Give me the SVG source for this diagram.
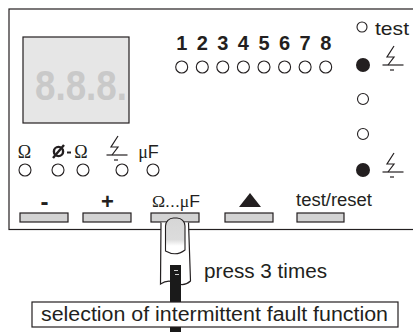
<svg xmlns="http://www.w3.org/2000/svg" width="413" height="332" viewBox="0 0 413 332">
  <style>
    .ln { stroke: #231f20; stroke-width: 1.2; fill: none; }
    .btn { fill: #d3d3d3; stroke: #231f20; stroke-width: 1.2; }
    .led { fill: #fff; stroke: #231f20; stroke-width: 1.1; }
    .on { fill: #231f20; }
    .sans { font-family: "Liberation Sans", Arial, sans-serif; fill: #231f20; }
    .serif { font-family: "Liberation Serif", "Times New Roman", serif; }
    .num { font-family: "Liberation Sans", Arial, sans-serif; font-weight: bold; font-size: 20px; fill: #231f20; text-anchor: middle; }
  </style>
  <defs>
    <!-- earth-fault symbol: lightning bolt over a ground line, origin at the ground line centre -->
    <g id="earth" class="ln">
      <path d="M1,-19 L-6,-8 L1,-8 L-5,0"/>
      <path d="M-10.5,0 H10.5"/>
      <path d="M-3,5 H1"/>
    </g>
    <linearGradient id="nailFill" x1="0" y1="0" x2="0" y2="1">
      <stop offset="0" stop-color="#d6d6d6"/>
      <stop offset="0.6" stop-color="#dcdcdc"/>
      <stop offset="0.78" stop-color="#ffffff"/>
    </linearGradient>
  </defs>

  <rect width="413" height="332" fill="#fff"/>

  <!-- front panel outline (right side runs off the sheet) -->
  <g id="panel">
    <rect x="9" y="9" width="420" height="220.5" class="ln" stroke-width="1.3"/>
  </g>

  <!-- numeric display -->
  <g id="display">
    <rect x="23" y="37" width="106" height="86" fill="#e6e6e6" stroke="#231f20" stroke-width="1.2"/>
    <text x="35" y="100" class="sans" font-size="42" font-weight="bold" style="fill:#c9c9c9" textLength="92" lengthAdjust="spacingAndGlyphs">8.8.8.</text>
  </g>

  <!-- channel indicators 1..8 -->
  <g id="channels">
    <text class="num" x="181.7" y="50">1</text>
    <text class="num" x="202.3" y="50">2</text>
    <text class="num" x="222.8" y="50">3</text>
    <text class="num" x="243.4" y="50">4</text>
    <text class="num" x="264.0" y="50">5</text>
    <text class="num" x="284.6" y="50">6</text>
    <text class="num" x="305.1" y="50">7</text>
    <text class="num" x="325.7" y="50">8</text>
    <circle class="led" cx="181.7" cy="67" r="6"/>
    <circle class="led" cx="202.3" cy="67" r="6"/>
    <circle class="led" cx="222.8" cy="67" r="6"/>
    <circle class="led" cx="243.4" cy="67" r="6"/>
    <circle class="led" cx="264.0" cy="67" r="6"/>
    <circle class="led" cx="284.6" cy="67" r="6"/>
    <circle class="led" cx="305.1" cy="67" r="6"/>
    <circle class="led" cx="325.7" cy="67" r="6"/>
  </g>

  <!-- status column on the right -->
  <g id="status">
    <circle class="led" cx="362" cy="27" r="5"/>
    <text x="375" y="35" class="sans" font-size="19" textLength="34" lengthAdjust="spacingAndGlyphs">test</text>
    <circle class="on" cx="363" cy="65" r="7"/>
    <use href="#earth" x="393" y="65"/>
    <circle class="led" cx="363" cy="99" r="5.5"/>
    <circle class="led" cx="363" cy="134" r="5.5"/>
    <circle class="on" cx="363" cy="170" r="7"/>
    <use href="#earth" x="393" y="172"/>
  </g>

  <!-- measurement mode indicators -->
  <g id="modes">
    <text x="24.5" y="158" class="serif" font-size="18" text-anchor="middle" fill="#231f20">Ω</text>
    <circle cx="58.5" cy="151.5" r="4.6" fill="none" stroke="#231f20" stroke-width="2.4"/>
    <path d="M53,158 L64,145" stroke="#231f20" stroke-width="2.4"/>
    <path d="M67,152.5 H71" stroke="#231f20" stroke-width="2"/>
    <text x="81" y="158" class="serif" font-size="18" text-anchor="middle" fill="#231f20">Ω</text>
    <use href="#earth" x="117" y="155"/>
    <text x="148.5" y="158" class="sans" font-size="18" text-anchor="middle"><tspan class="serif">μ</tspan>F</text>
    <circle class="led" cx="25" cy="170" r="6"/>
    <circle class="led" cx="58" cy="170" r="6"/>
    <circle class="led" cx="83" cy="170" r="6"/>
    <circle class="led" cx="122" cy="170" r="6"/>
    <circle class="led" cx="153" cy="170" r="6"/>
  </g>

  <!-- push buttons -->
  <g id="btn-minus">
    <text x="44.5" y="210" class="sans" font-size="24" font-weight="bold" text-anchor="middle">-</text>
    <rect class="btn" x="20" y="213" width="48" height="9"/>
  </g>
  <g id="btn-plus">
    <text x="107.5" y="209" class="sans" font-size="22" font-weight="bold" text-anchor="middle">+</text>
    <rect class="btn" x="83" y="213" width="48" height="9"/>
  </g>
  <g id="btn-range">
    <text x="152" y="207" class="sans" font-size="17" textLength="48" lengthAdjust="spacingAndGlyphs"><tspan class="serif">Ω</tspan>...<tspan class="serif">μ</tspan>F</text>
    <rect class="btn" x="151" y="213" width="48" height="9"/>
  </g>
  <g id="btn-up">
    <polygon points="239,207 261,207 250,193" fill="#231f20"/>
    <rect class="btn" x="225" y="213" width="48" height="9"/>
  </g>
  <g id="btn-test">
    <text x="296" y="206" class="sans" font-size="18" textLength="76" lengthAdjust="spacingAndGlyphs">test/reset</text>
    <rect class="btn" x="297" y="213" width="47" height="9"/>
  </g>

  <!-- finger pressing the range button -->
  <g id="finger">
    <path d="M161,222.5 L160.5,284 Q168,279 176,283 Q184,287 190.5,281 L188.5,222.5 Z" fill="#fff"/>
    <path d="M161,222.5 L160.5,284 Q168,279 176,283 Q184,287 190.5,281 L188.5,222.5" class="ln"/>
    <path d="M165.5,251 L165.5,226 A8,8 0 0 1 173.5,218 L177,218 A8,8 0 0 1 185,226 L185,250 Q176,257 165.5,251 Z" fill="url(#nailFill)" stroke="#231f20" stroke-width="1.1"/>
  </g>

  <!-- connectors -->
  <g id="connectors">
    <rect x="170" y="265" width="11" height="67" fill="#1a1a1a"/>
    <path d="M174,270.5 H178 M175,274.5 H179" stroke="#fff" stroke-width="0.8"/>
  </g>

  <g id="note-press">
    <text x="204" y="278" class="sans" font-size="20" textLength="123" lengthAdjust="spacingAndGlyphs">press 3 times</text>
  </g>

  <g id="note-function">
    <rect x="32" y="302" width="366" height="25" fill="#fff" stroke="#231f20" stroke-width="1.2"/>
    <text x="41" y="321" class="sans" font-size="20" textLength="347" lengthAdjust="spacingAndGlyphs">selection of intermittent fault function</text>
  </g>
</svg>
